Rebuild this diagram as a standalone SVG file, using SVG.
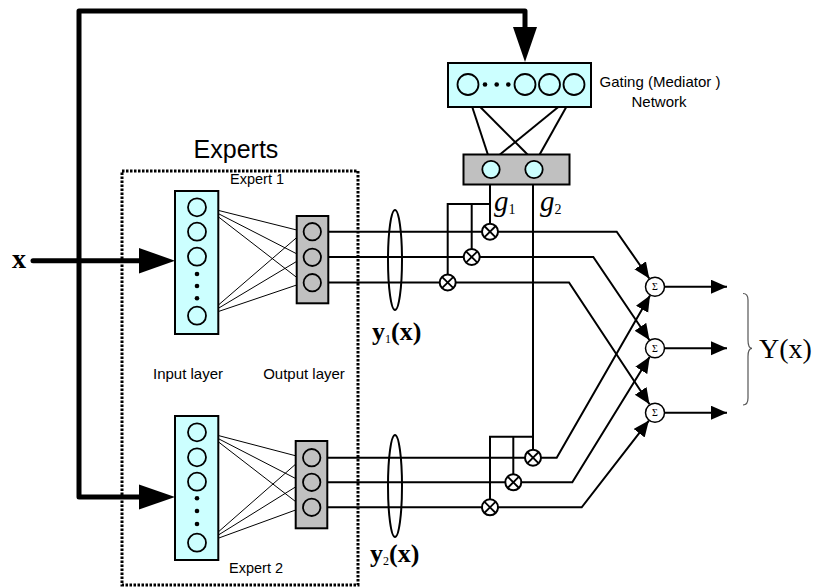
<svg xmlns="http://www.w3.org/2000/svg" width="816" height="587" viewBox="0 0 816 587">
<style>
.cyan{fill:#CCFFFF;stroke:#000;stroke-width:2}
.gray{fill:#C0C0C0;stroke:#000;stroke-width:2}
.neu{fill:#CCFFFF;stroke:#000;stroke-width:1.8}
.neug{fill:#C0C0C0;stroke:#000;stroke-width:1.8}
.thin{stroke:#000;stroke-width:1;fill:none}
.wire{stroke:#000;stroke-width:2;fill:none}
.thick{stroke:#000;stroke-width:5;fill:none;stroke-linejoin:round;stroke-linecap:round}
.sum circle{fill:#fff;stroke:#000;stroke-width:1.5}
.sans{font-family:"Liberation Sans",Arial,sans-serif;fill:#000}
.serif{font-family:"Liberation Serif","Times New Roman",serif;fill:#000}
.dot{fill:#000}
</style>
<defs>
<marker id="ah" markerUnits="userSpaceOnUse" markerWidth="17" markerHeight="15" refX="16" refY="7" orient="auto">
<path d="M0,0 L16,7 L0,14 z" fill="#000"/>
</marker>
<g id="mx" fill="#fff" stroke="#000">
<circle cx="0" cy="0" r="8" fill="#fff" stroke="#000" stroke-width="2"/>
<line x1="-5.7" y1="-5.7" x2="5.7" y2="5.7" stroke="#000" stroke-width="1.8"/>
<line x1="-5.7" y1="5.7" x2="5.7" y2="-5.7" stroke="#000" stroke-width="1.8"/>
</g>
</defs>
<rect width="816" height="587" fill="#fff"/>

<!-- Experts dotted box -->
<g id="experts-box">
<rect x="122" y="171" width="236" height="414" fill="none" stroke="#000" stroke-width="3" stroke-dasharray="2.5 1.5"/>
<text class="sans" x="236" y="158" font-size="25" text-anchor="middle">Experts</text>
</g>

<g id="connectors">
<!-- input x feed -->
<path class="thick" d="M33,260.7 L142,260.7"/>
<polygon points="139,248 175,260.7 139,273.4" fill="#000"/>
<path class="thick" d="M142,497 L79,497 L79,11 L525,11 L525,30"/>
<polygon points="139,484.5 175,497 139,509.5" fill="#000"/>
<polygon points="513,27 537,27 525,62" fill="#000"/>

<!-- gating connections -->
<line class="wire" x1="468.3" y1="95" x2="490" y2="161"/>
<line class="wire" x1="468.3" y1="95" x2="534" y2="161"/>
<line class="wire" x1="573" y1="95" x2="492" y2="161"/>
<line class="wire" x1="573" y1="95" x2="536" y2="161"/>

<!-- expert 1 internal -->
<g class="thin">
<line x1="206" y1="207.3" x2="303.5" y2="231.7"/>
<line x1="206" y1="207.3" x2="303.5" y2="257.3"/>
<line x1="206" y1="207.3" x2="303.5" y2="282.7"/>
<line x1="206" y1="315.7" x2="303.5" y2="231.7"/>
<line x1="206" y1="315.7" x2="303.5" y2="257.3"/>
<line x1="206" y1="315.7" x2="303.5" y2="282.7"/>
</g>
<!-- expert 2 internal -->
<g class="thin">
<line x1="206" y1="432.3" x2="303" y2="457.7"/>
<line x1="206" y1="432.3" x2="303" y2="482.3"/>
<line x1="206" y1="432.3" x2="303" y2="507.3"/>
<line x1="206" y1="542.7" x2="303" y2="457.7"/>
<line x1="206" y1="542.7" x2="303" y2="482.3"/>
<line x1="206" y1="542.7" x2="303" y2="507.3"/>
</g>

<!-- gate lines -->
<path class="wire" d="M490,178 L490,232"/>
<path class="wire" d="M490,204 L447.7,204 L447.7,282.5"/>
<path class="wire" d="M471.7,204 L471.7,257"/>
<path class="wire" d="M533,178 L533,457.7"/>
<path class="wire" d="M533,436.7 L490,436.7 L490,507.3"/>
<path class="wire" d="M513.3,436.7 L513.3,482.3"/>

<!-- expert 1 outputs -->
<path class="wire" d="M321,231.7 L616.7,231.7 L649.3,278.5" marker-end="url(#ah)"/>
<path class="wire" d="M321,257 L593.3,257 L649.4,340" marker-end="url(#ah)"/>
<path class="wire" d="M321,282.5 L569,282.5 L649.5,404.3" marker-end="url(#ah)"/>
<!-- expert 2 outputs -->
<path class="wire" d="M320,457.7 L556.7,457.7 L650,295.4" marker-end="url(#ah)"/>
<path class="wire" d="M320,482.3 L572.3,482.3 L649.7,356.8" marker-end="url(#ah)"/>
<path class="wire" d="M320,507.3 L581.7,507.3 L648.9,420.6" marker-end="url(#ah)"/>

<!-- sum outputs -->
<line class="wire" x1="664" y1="286.7" x2="727" y2="286.7" marker-end="url(#ah)"/>
<line class="wire" x1="664" y1="348.3" x2="727" y2="348.3" marker-end="url(#ah)"/>
<line class="wire" x1="664" y1="412.7" x2="727" y2="412.7" marker-end="url(#ah)"/>

<!-- bundles -->
<ellipse cx="395" cy="260" rx="7" ry="50" fill="none" stroke="#000" stroke-width="2"/>
<ellipse cx="395" cy="486" rx="7" ry="51" fill="none" stroke="#000" stroke-width="2"/>

<!-- brace -->
<path d="M743,293.5 C747,293.5 748,296 748,300 L748,340 C748,345.5 749.5,348.3 752,348.3 C749.5,348.3 748,351 748,356.5 L748,398 C748,402 747,405 743,405" fill="none" stroke="#555" stroke-width="1.2"/>
</g>

<g id="gating-network">
<rect class="cyan" x="448" y="63" width="143" height="44"/>
<circle class="neu" cx="468" cy="84.5" r="10.5"/>
<circle class="dot" cx="485" cy="84.5" r="2.3"/>
<circle class="dot" cx="496.7" cy="84.5" r="2.3"/>
<circle class="dot" cx="508.3" cy="84.5" r="2.3"/>
<circle class="neu" cx="525" cy="84.5" r="10.5"/>
<circle class="neu" cx="549.5" cy="84.5" r="10.5"/>
<circle class="neu" cx="574" cy="84.5" r="10.5"/>
<text class="sans" x="660" y="87" font-size="15" text-anchor="middle">Gating (Mediator )</text>
<text class="sans" x="659" y="107" font-size="15" text-anchor="middle">Network</text>
</g>

<g id="gating-output">
<rect class="gray" x="463.5" y="154.5" width="106" height="30"/>
<circle class="neu" cx="491" cy="169.5" r="8.7"/>
<circle class="neu" cx="534" cy="169.5" r="8.7"/>
</g>

<g id="expert1-input">
<rect class="cyan" x="175" y="191" width="43.3" height="143"/>
<circle class="neu" cx="197" cy="207.3" r="9"/>
<circle class="neu" cx="197" cy="231.7" r="9"/>
<circle class="neu" cx="197" cy="256.7" r="9"/>
<circle class="dot" cx="197" cy="274" r="2.3"/>
<circle class="dot" cx="197" cy="286" r="2.3"/>
<circle class="dot" cx="197" cy="298.3" r="2.3"/>
<circle class="neu" cx="197" cy="315.7" r="9"/>
<text class="sans" x="257" y="184.3" font-size="14.5" text-anchor="middle">Expert 1</text>
</g>

<g id="expert1-output">
<rect class="gray" x="296.7" y="216" width="31.6" height="87.3"/>
<circle class="neug" cx="312.3" cy="231.7" r="8.7"/>
<circle class="neug" cx="312.3" cy="257.3" r="8.7"/>
<circle class="neug" cx="312.3" cy="282.7" r="8.7"/>
</g>

<g id="expert2-input">
<rect class="cyan" x="175" y="416" width="43.3" height="144"/>
<circle class="neu" cx="197" cy="432.3" r="9"/>
<circle class="neu" cx="197" cy="457.3" r="9"/>
<circle class="neu" cx="197" cy="481.7" r="9"/>
<circle class="dot" cx="197" cy="498.3" r="2.3"/>
<circle class="dot" cx="197" cy="511" r="2.3"/>
<circle class="dot" cx="197" cy="524" r="2.3"/>
<circle class="neu" cx="197" cy="542.7" r="9"/>
<text class="sans" x="256" y="572.7" font-size="14.5" text-anchor="middle">Expert 2</text>
</g>

<g id="expert2-output">
<rect class="gray" x="295.7" y="441" width="31.6" height="87.3"/>
<circle class="neug" cx="311.7" cy="457.7" r="8.7"/>
<circle class="neug" cx="311.7" cy="482.3" r="8.7"/>
<circle class="neug" cx="311.7" cy="507.3" r="8.7"/>
</g>

<g id="layer-labels">
<text class="sans" x="188" y="379" font-size="15" text-anchor="middle">Input layer</text>
<text class="sans" x="304" y="379" font-size="15" text-anchor="middle">Output layer</text>
</g>

<g id="multipliers">
<use href="#mx" x="490" y="231.7"/>
<use href="#mx" x="471.7" y="257"/>
<use href="#mx" x="447.7" y="282.5"/>
<use href="#mx" x="533" y="457.7"/>
<use href="#mx" x="513.3" y="482.3"/>
<use href="#mx" x="490" y="507.3"/>
</g>

<g id="sums" class="sum">
<circle cx="655" cy="286.7" r="9.5"/>
<circle cx="655" cy="348.3" r="9.5"/>
<circle cx="655" cy="412.7" r="9.5"/>
<text class="serif" x="655" y="290.2" font-size="10" text-anchor="middle" fill="#333">Σ</text>
<text class="serif" x="655" y="351.8" font-size="10" text-anchor="middle" fill="#333">Σ</text>
<text class="serif" x="655" y="416.2" font-size="10" text-anchor="middle" fill="#333">Σ</text>
</g>

<g id="math-labels">
<text class="serif" x="12" y="268" font-size="28" font-weight="bold">x</text>
<text class="serif" x="494" y="211" font-size="29" font-style="italic">g<tspan font-size="14" font-style="normal" dy="3">1</tspan></text>
<text class="serif" x="540" y="211" font-size="29" font-style="italic">g<tspan font-size="14" font-style="normal" dy="3">2</tspan></text>
<text class="serif" x="372" y="340" font-size="26" font-weight="bold">y<tspan font-size="12" font-weight="normal" dy="3">1</tspan><tspan dy="-3">(x)</tspan></text>
<text class="serif" x="370" y="562" font-size="26" font-weight="bold">y<tspan font-size="12" font-weight="normal" dy="3">2</tspan><tspan dy="-3">(x)</tspan></text>
<text class="serif" x="759" y="358" font-size="28">Y(x)</text>
</g>
</svg>
